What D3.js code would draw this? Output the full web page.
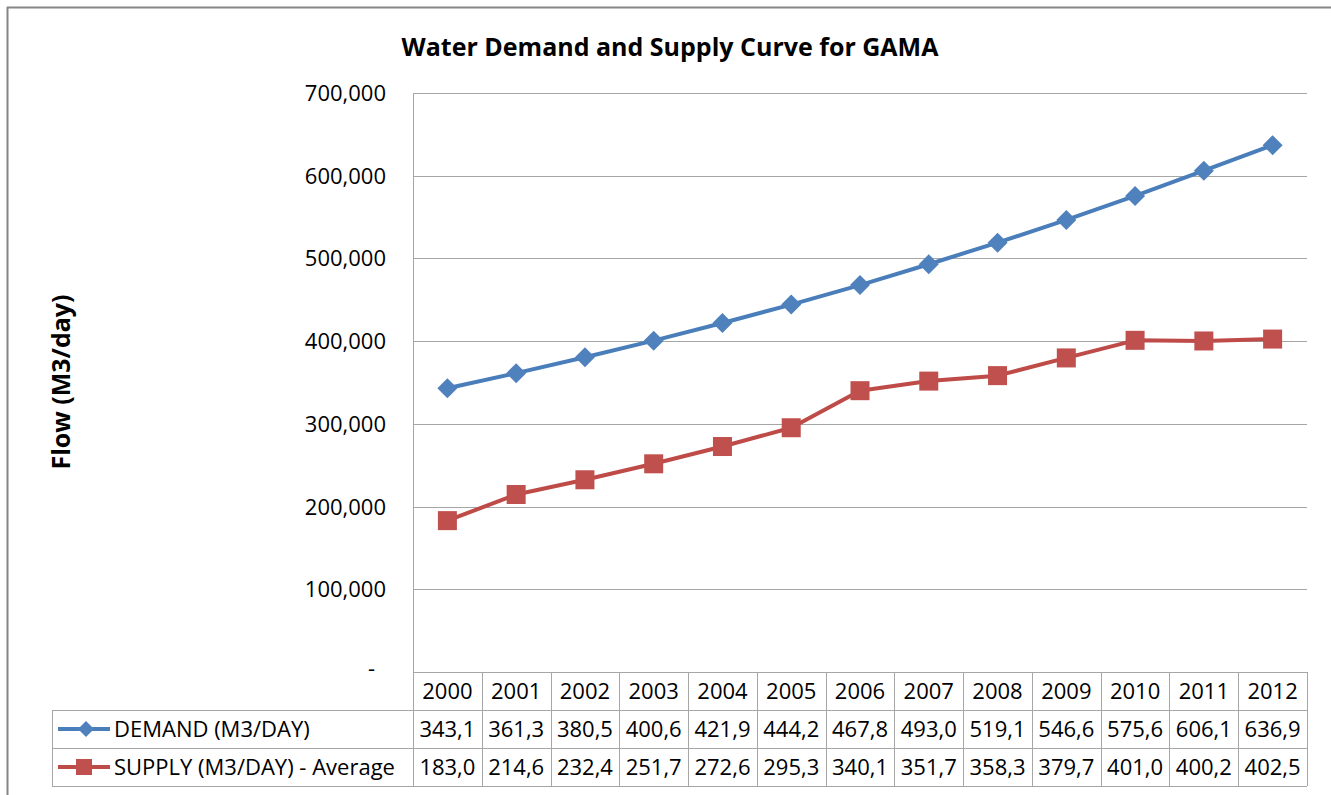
<!DOCTYPE html>
<html><head><meta charset="utf-8">
<script src="https://cdn.jsdelivr.net/npm/d3@7/dist/d3.min.js"></script>
<style>body{margin:0;background:#fff}svg{display:block}text{font-family:"Open Sans",sans-serif;fill:#000}</style>
</head><body>
<svg id="c" width="1331" height="795"></svg>
<script>
const years = ["2000","2001","2002","2003","2004","2005","2006","2007","2008","2009","2010","2011","2012"];
const demand = [343.1,361.3,380.5,400.6,421.9,444.2,467.8,493.0,519.1,546.6,575.6,606.1,636.9];
const supply = [183.0,214.6,232.4,251.7,272.6,295.3,340.1,351.7,358.3,379.7,401.0,400.2,402.5];
const yTicks = [0,100,200,300,400,500,600,700];
const seriesNames = ["DEMAND (M3/DAY)","SUPPLY (M3/DAY) - Average"];
const titleText = "Water Demand and Supply Curve for GAMA";
const yTitle = "Flow (M3/day)";

const svg = d3.select("#c");
const L=413, R=1307, T=93, B=672;
const rowH = 38, tableLeft = 52;
const x = d3.scaleBand().domain(years).range([L,R]);
const y = d3.scaleLinear().domain([0,700]).range([B,T]);
const grid = "#a6a6a6";
const fs = "22px";

// outer border
svg.append("line").attr("x1",7).attr("x2",1331).attr("y1",7.5).attr("y2",7.5).attr("stroke","#858585").attr("stroke-width",2);
svg.append("line").attr("x1",7.5).attr("x2",7.5).attr("y1",7).attr("y2",795).attr("stroke","#858585").attr("stroke-width",2);

// title
svg.append("text").attr("x",670).attr("y",56).attr("text-anchor","middle")
  .style("font-weight","bold").style("font-size","25px").text(titleText);

// y axis title
svg.append("text").attr("transform","translate(70,382) rotate(-90)").attr("text-anchor","middle")
  .style("font-weight","bold").style("font-size","25px").text(yTitle);

// gridlines
svg.append("g").selectAll("line").data(yTicks.filter(d=>d>0)).join("line")
  .attr("x1",L).attr("x2",R).attr("y1",d=>Math.round(y(d))+0.5).attr("y2",d=>Math.round(y(d))+0.5)
  .attr("stroke",grid).attr("stroke-width",1);

// y tick labels
const fmt = d3.format(",");
svg.append("g").selectAll("text").data(yTicks).join("text")
  .attr("x",d=>d===0?375:386).attr("y",d=>y(d)+(d===0?4:8)).attr("text-anchor","end")
  .style("font-size",fs).text(d=>d===0?"-":fmt(d*1000));

// table
const tg = svg.append("g").attr("stroke",grid).attr("stroke-width",1);
const colEdges = years.map(yr=>x(yr)).concat([R]);
tg.append("line").attr("x1",L).attr("x2",R).attr("y1",B+0.5).attr("y2",B+0.5);
[1,2,3].forEach(i=>tg.append("line").attr("x1",tableLeft).attr("x2",R).attr("y1",B+i*rowH+0.5).attr("y2",B+i*rowH+0.5));
tg.append("line").attr("x1",L+0.5).attr("x2",L+0.5).attr("y1",T).attr("y2",B+3*rowH);
tg.append("line").attr("x1",tableLeft+0.5).attr("x2",tableLeft+0.5).attr("y1",B+rowH).attr("y2",B+3*rowH);
tg.selectAll("line.v").data(colEdges.slice(1)).join("line").attr("class","v")
  .attr("x1",d=>Math.round(d)+0.5).attr("x2",d=>Math.round(d)+0.5).attr("y1",B).attr("y2",B+3*rowH);

const cx = d=>x(d)+x.bandwidth()/2;
const dec = v=>v.toFixed(1).replace(".",",");
svg.append("g").selectAll("text").data(years).join("text")
  .attr("x",cx).attr("y",B+rowH/2+8).attr("text-anchor","middle").style("font-size",fs).text(d=>d);
svg.append("g").selectAll("text").data(demand).join("text")
  .attr("x",(d,i)=>cx(years[i])).attr("y",B+rowH*1.5+8).attr("text-anchor","middle").style("font-size",fs).text(dec);
svg.append("g").selectAll("text").data(supply).join("text")
  .attr("x",(d,i)=>cx(years[i])).attr("y",B+rowH*2.5+8).attr("text-anchor","middle").style("font-size",fs).text(dec);

// series
const blue="#4a7ebb", blueM="#4f81bd", red="#be4b48", redM="#c0504d";
const line = d3.line().x((d,i)=>cx(years[i])).y(d=>y(d));
svg.append("path").datum(demand).attr("d",line).attr("fill","none").attr("stroke",blue).attr("stroke-width",4).attr("stroke-linejoin","round");
svg.append("path").datum(supply).attr("d",line).attr("fill","none").attr("stroke",red).attr("stroke-width",4).attr("stroke-linejoin","round");
const diamondPath = s=>`M0,${-s}L${s},0L0,${s}L${-s},0Z`;
svg.append("g").selectAll("path").data(demand).join("path")
  .attr("transform",(d,i)=>`translate(${cx(years[i])},${y(d)})`).attr("d",diamondPath(10)).attr("fill",blueM);
svg.append("g").selectAll("rect").data(supply).join("rect")
  .attr("x",(d,i)=>cx(years[i])-9.5).attr("y",d=>y(d)-9.5).attr("width",19).attr("height",19).attr("fill",redM);

// legend keys in table
const ky1 = B+rowH*1.5, ky2 = B+rowH*2.5;
svg.append("line").attr("x1",58).attr("x2",110).attr("y1",ky1).attr("y2",ky1).attr("stroke",blue).attr("stroke-width",4);
svg.append("path").attr("transform",`translate(86,${ky1})`).attr("d",diamondPath(8)).attr("fill",blueM);
svg.append("line").attr("x1",58).attr("x2",110).attr("y1",ky2).attr("y2",ky2).attr("stroke",red).attr("stroke-width",4);
svg.append("rect").attr("x",76).attr("y",ky2-8).attr("width",16).attr("height",16).attr("fill",redM);
svg.append("text").attr("x",114).attr("y",ky1+8).style("font-size",fs).text(seriesNames[0]);
svg.append("text").attr("x",114).attr("y",ky2+8).style("font-size",fs).text(seriesNames[1]);
</script>
</body></html>
